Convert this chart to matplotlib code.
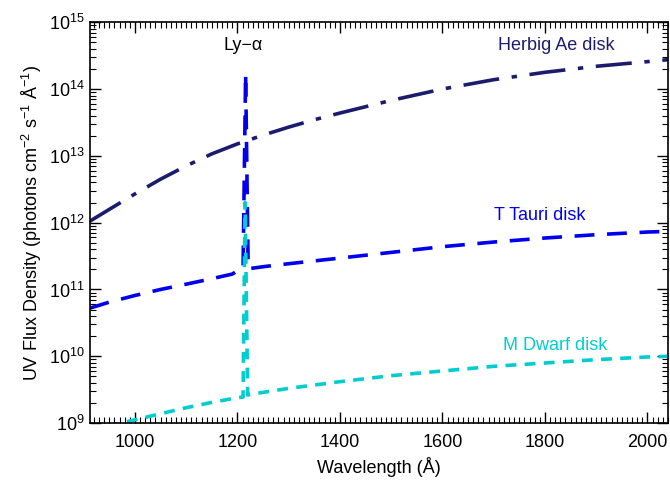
import numpy as np
import matplotlib
matplotlib.use('Agg')
from matplotlib import pyplot as plt
from matplotlib.ticker import LogLocator, MultipleLocator, NullFormatter

plt.rcParams['font.family'] = ['Liberation Sans', 'DejaVu Sans']
plt.rcParams['mathtext.fontset'] = 'custom'
plt.rcParams['mathtext.rm'] = 'Liberation Sans'
plt.rcParams['mathtext.it'] = 'Liberation Sans:italic'
plt.rcParams['mathtext.default'] = 'regular'

# Herbig Ae disk
herbig_wl = [912, 950, 1000, 1050, 1100, 1150, 1200, 1250, 1300, 1350, 1400,
             1500, 1600, 1700, 1800, 1900, 2000, 2040]
herbig_flux = [1.05e12, 1.58e12, 2.69e12, 4.47e12, 7.08e12, 1.07e13, 1.51e13,
               2.04e13, 2.69e13, 3.47e13, 4.37e13, 6.76e13, 1.0e14, 1.38e14,
               1.78e14, 2.19e14, 2.57e14, 2.75e14]

# T Tauri disk (with Ly-alpha line)
ttauri_wl = [912, 950, 1000, 1050, 1100, 1150, 1190, 1196, 1204, 1211, 1216,
             1221, 1250, 1300, 1400, 1500, 1600, 1700, 1800, 1900, 2000, 2040]
ttauri_flux = [5.25e10, 6.46e10, 8.13e10, 1.0e11, 1.2e11, 1.45e11, 1.7e11,
               1.82e11, 1.95e11, 2.0e11, 1.7e14, 2.04e11, 2.19e11, 2.43e11,
               2.95e11, 3.59e11, 4.37e11, 5.13e11, 5.89e11, 6.61e11, 7.24e11, 7.41e11]

# M Dwarf disk (with Ly-alpha line)
mdwarf_wl = [912, 950, 1000, 1050, 1100, 1150, 1200, 1211, 1215, 1220, 1225,
             1300, 1400, 1500, 1600, 1700, 1800, 1900, 2000, 2040]
mdwarf_flux = [7.6e8, 9.1e8, 1.12e9, 1.38e9, 1.7e9, 2.04e9, 2.4e9, 2.45e9,
               2.0e12, 2.63e9, 2.69e9, 3.31e9, 4.17e9, 5.13e9, 6.03e9, 7.08e9,
               7.94e9, 8.91e9, 9.77e9, 1.0e10]

herbig_col = '#1c1c6e'
ttauri_col = '#0000ee'
mdwarf_col = '#00cdd0'

fig = plt.figure(figsize=(6.7, 4.83), dpi=100)
ax = fig.add_axes([0.134, 0.124, 0.863, 0.830])

ax.plot(herbig_wl, herbig_flux, color=herbig_col, lw=2.6, dashes=(10, 3.5, 1.5, 3.5))
ax.plot(ttauri_wl, ttauri_flux, color=ttauri_col, lw=2.6, dashes=(5.5, 3.5))
ax.plot(mdwarf_wl, mdwarf_flux, color=mdwarf_col, lw=2.6, dashes=(3, 2.3))

ax.set_yscale('log')
ax.set_xlim(912, 2040)
ax.set_ylim(1e9, 1e15)

ax.xaxis.set_major_locator(MultipleLocator(200))
ax.xaxis.set_minor_locator(MultipleLocator(10))
ax.yaxis.set_major_locator(LogLocator(base=10, numticks=20))
ax.yaxis.set_minor_locator(LogLocator(base=10, subs=np.arange(2, 10), numticks=20))
ax.yaxis.set_minor_formatter(NullFormatter())
ax.tick_params(which='both', direction='in', top=True, right=True, labelsize=13,
               color='black')
ax.tick_params(which='major', length=8, width=1)
ax.tick_params(which='minor', length=4, width=0.8)
ax.tick_params(axis='x', pad=8)
for s in ax.spines.values():
    s.set_linewidth(1.2)

ax.set_xlabel('Wavelength (Å)', fontsize=13)
ax.set_ylabel('UV Flux Density (photons cm$^{-2}$ s$^{-1}$ Å$^{-1}$)', fontsize=13)

ax.text(1211, 4.5e14, 'Ly\u2212\u03b1', ha='center', va='center', fontsize=13, color='black')
ax.text(1823, 4.5e14, 'Herbig Ae disk', ha='center', va='center', fontsize=13, color=herbig_col)
ax.text(1790, 1.3e12, 'T Tauri disk', ha='center', va='center', fontsize=13, color=ttauri_col)
ax.text(1819, 1.45e10, 'M Dwarf disk', ha='center', va='center', fontsize=13, color=mdwarf_col)

fig.savefig('out.png', dpi=100)
